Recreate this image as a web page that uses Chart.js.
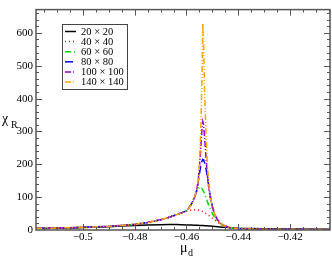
<!DOCTYPE html>
<html><head><meta charset="utf-8">
<script src="https://cdn.jsdelivr.net/npm/chart.js@4/dist/chart.umd.min.js"></script>
<style>html,body{margin:0;padding:0;background:#fff}#wrap{width:332px;height:257px;position:relative}</style>
</head><body><div id="wrap"><canvas id="c" width="332" height="257"></canvas></div>
<script>
const muValues = [-0.518,-0.51,-0.50,-0.49,-0.485,-0.48,-0.475,-0.47,-0.467,-0.464,-0.462,
  -0.460,-0.459,-0.458,-0.457,-0.456,-0.4555,-0.455,-0.4545,-0.454,-0.4537,
  -0.4534,-0.453,-0.4525,-0.452,-0.4515,-0.451,-0.450,-0.449,-0.448,-0.447,
  -0.446,-0.445,-0.444,-0.442,-0.440,-0.435,-0.43,-0.42,-0.41,-0.4045];
const chi20 = [4.5,5.5,7.5,10,12,13.5,15,16,16.5,16.5,16,
  15.5,15.3,15,14.7,14.4,14.2,14,13.8,13.6,13.5,
  13.4,13.2,13,12.7,12.4,12,11.3,10.6,10,9.3,
  8.6,8,7.4,6.4,5.5,4.3,3.6,3,2.6,2.4];
const chi40 = [5,6,8,11,14,17,23,31,38,46,52,
  57,59,61,62,62,61,60,59,57,56,
  54,52,50,47,45,42,36,30,24,18,
  14,10,8,6,4.5,3,2.5,2,1.8,1.6];
const chi60 = [5,6,8,11,14,17,23,31,38,46,52,
  58,68,82,100,118,126,131,130,126,122,
  117,110,99,88,77,66,50,37,27,20,
  15,11,9,6,4.5,3,2.5,2,1.8,1.6];
const chi80 = [5,6,8,11,14,17,23,31,38,46,52,
  58,68,80,97,122,145,172,195,210,215,
  213,205,188,165,140,112,72,46,31,22,
  16,12,9,6,4.5,3,2.5,2,1.8,1.6];
const chi100 = [5,6,8,11,14,17,23,31,38,46,52,
  58,68,80,97,125,150,190,250,310,330,
  320,280,225,175,135,105,68,44,30,22,
  16,12,9,6,4.5,3,2.5,2,1.8,1.6];
const chi140 = [5,6,8,11,14,17,23,31,38,46,52,
  58,68,80,97,125,150,200,300,470,630,
  560,420,300,210,150,110,70,45,30,22,
  16,12,9,6,4.5,3,2.5,2,1.8,1.6];
const seriesLabels = ['20 \u00d7 20','40 \u00d7 40','60 \u00d7 60','80 \u00d7 80','100 \u00d7 100','140 \u00d7 140'];
const xTickValues = [-0.5,-0.48,-0.46,-0.44,-0.42];
const yTickValues = [0,100,200,300,400,500,600];

const seriesData = [chi20,chi40,chi60,chi80,chi100,chi140];
const colors = ['#000000','#ff0000','#00e000','#0000ff','#9400d3','#ffa500'];
const dashes = [[],[1,3],[6,3,1,3],[8,4],[6,2,1,2],[6,2,1,2,1,2]];
const serif = "'Liberation Serif','Times New Roman',serif";

const datasets = seriesData.map((arr,i)=>({
  label: seriesLabels[i],
  data: arr.map((v,j)=>({x:muValues[j], y:v})),
  borderColor: colors[i],
  backgroundColor: colors[i],
  borderDash: dashes[i],
  borderWidth: 1.5,
  pointRadius: 0,
  tension: 0,
  order: 5-i
}));

const fmt = v => (v<0?'\u2212':'') + String(Math.abs(Math.round(v*1000)/1000));

const decor = {
  id:'decor',
  afterDatasetsDraw(chart){
    const ctx = chart.ctx, a = chart.chartArea;
    const xs = chart.scales.x, ys = chart.scales.y;
    ctx.save();
    ctx.strokeStyle = '#555';
    ctx.lineWidth = 1;
    ctx.beginPath();
    for(let k=-103;k<=-81;k++){
      const v = k*0.005;
      const px = Math.round(xs.getPixelForValue(v))+0.5;
      if(px<a.left||px>a.right) continue;
      const len = (k%4===0)?6:3;
      ctx.moveTo(px,a.bottom); ctx.lineTo(px,a.bottom-len);
      ctx.moveTo(px,a.top); ctx.lineTo(px,a.top+len);
    }
    for(let k=0;k<=34;k++){
      const v = k*20;
      const py = Math.round(ys.getPixelForValue(v))+0.5;
      if(py<a.top||py>a.bottom) continue;
      const len = (k%5===0)?6:3;
      ctx.moveTo(a.left,py); ctx.lineTo(a.left+len,py);
      ctx.moveTo(a.right,py); ctx.lineTo(a.right-len,py);
    }
    ctx.stroke();
    ctx.lineWidth = 1.5;
    ctx.strokeRect(a.left, a.top, a.right-a.left, a.bottom-a.top);
    ctx.fillStyle = '#000';
    ctx.textBaseline = 'alphabetic';
    ctx.font = '14px '+serif;
    ctx.fillText('\u03bc', 180, 252);
    ctx.font = '10px '+serif;
    ctx.fillText('d', 188, 256);
    ctx.font = '14px '+serif;
    ctx.fillText('\u03c7', 2, 123);
    ctx.font = '10px '+serif;
    ctx.fillText('R', 11, 128);
    const lx=62, ly=24, lw=65, lh=65;
    ctx.fillStyle='#fff';
    ctx.fillRect(lx,ly,lw,lh);
    ctx.strokeStyle='#444'; ctx.lineWidth=1;
    ctx.strokeRect(lx+0.5,ly+0.5,lw,lh);
    ctx.font = '10.5px '+serif;
    ctx.textBaseline='middle';
    chart.data.datasets.forEach((d,i)=>{
      const y = ly+7.5+i*10.1;
      ctx.strokeStyle=d.borderColor; ctx.lineWidth=1.5;
      ctx.setLineDash(d.borderDash);
      ctx.beginPath(); ctx.moveTo(lx+3,y); ctx.lineTo(lx+14,y); ctx.stroke();
      ctx.setLineDash([]);
      ctx.fillStyle='#000';
      ctx.fillText(d.label, lx+19, y+0.5);
    });
    ctx.restore();
  }
};

new Chart(document.getElementById('c'),{
  type:'line',
  data:{datasets},
  options:{
    responsive:false, animation:false,
    layout:{padding:{top:1,right:2,left:0,bottom:0}},
    plugins:{legend:{display:false},tooltip:{enabled:false}},
    scales:{
      x:{type:'linear',min:-0.5181,max:-0.4046,
        grid:{display:false,drawTicks:false},border:{display:false},
        afterBuildTicks:s=>{s.ticks=xTickValues.map(v=>({value:v}));},
        afterFit:s=>{s.height=27;},
        ticks:{padding:1,color:'#000',font:{family:serif,size:11},callback:v=>fmt(v),maxRotation:0,autoSkip:false}},
      y:{type:'linear',min:0,max:671,
        grid:{display:false,drawTicks:false},border:{display:false},
        afterBuildTicks:s=>{s.ticks=yTickValues.map(v=>({value:v}));},
        afterFit:s=>{s.width=36;},
        ticks:{padding:3,color:'#000',font:{family:serif,size:11},callback:v=>String(v),autoSkip:false}}
    }
  },
  plugins:[decor]
});
</script></body></html>
